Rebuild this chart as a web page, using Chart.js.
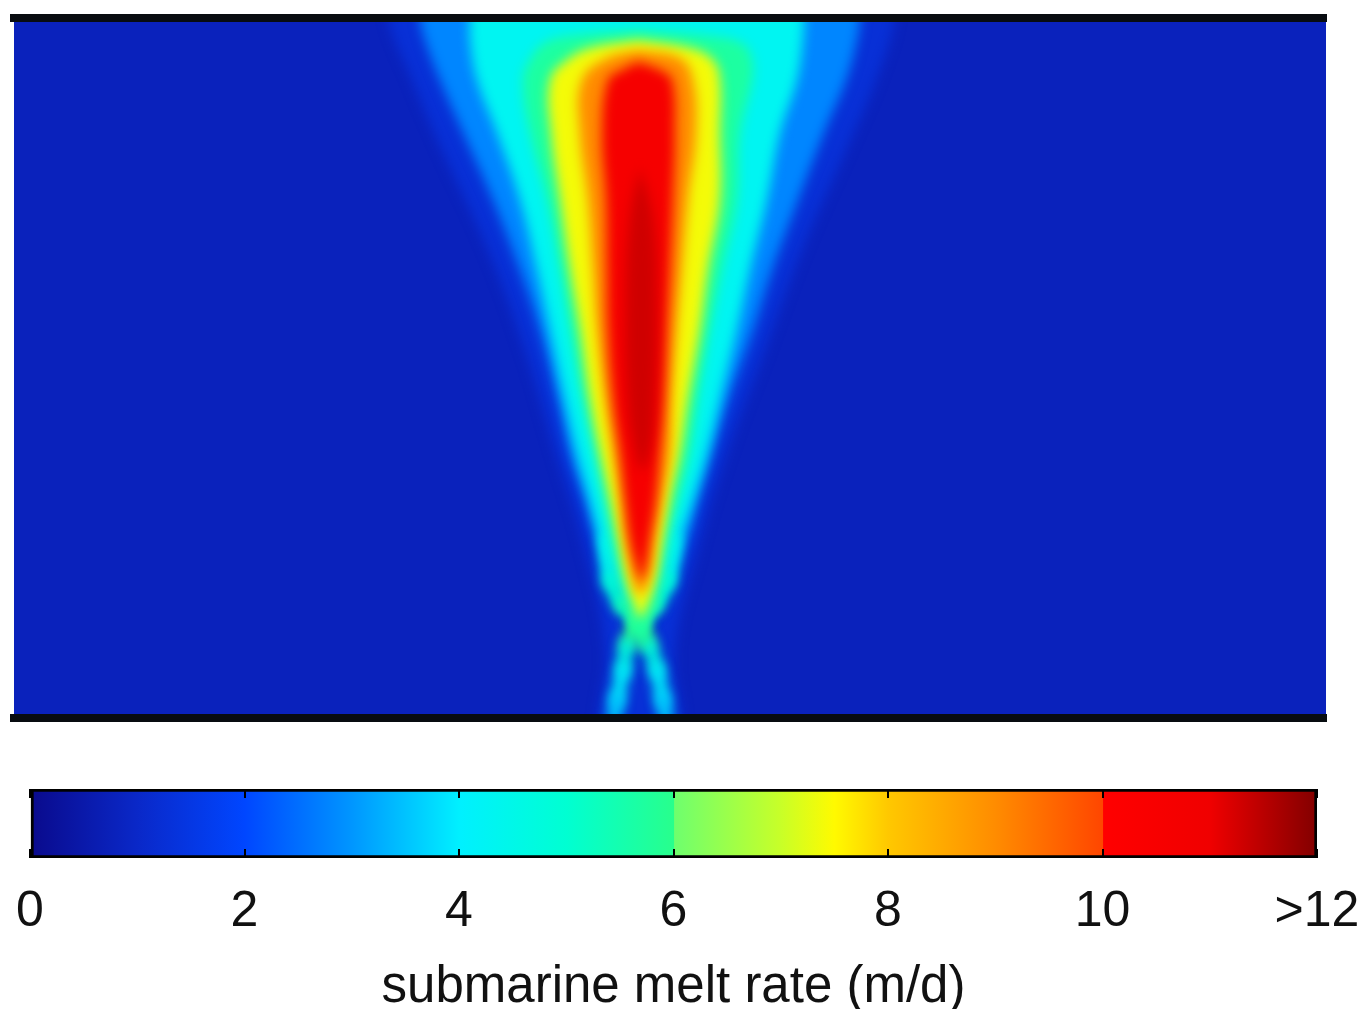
<!DOCTYPE html>
<html><head><meta charset="utf-8">
<script src="https://cdn.jsdelivr.net/npm/chart.js@4.4.1/dist/chart.umd.min.js"></script>
<style>
html,body{margin:0;padding:0;background:#fff;overflow:hidden;width:1369px;height:1009px}
#heat{position:absolute;left:0;top:0}
#bar{position:absolute;left:0;top:740px}
</style></head><body>
<canvas id="heat" width="1369" height="740"></canvas>
<canvas id="bar" width="1369" height="300"></canvas>
<script>
// ---------- data ----------
// along-front distance relative to plume centre, and depth below surface
const xRange = [-624, 688];
const depthRange = [0, 700];

// colour scale (melt rate, m/d)
const cmapStops  = [0, 1, 2, 3, 4, 5, 6, 6.01, 7, 7.5, 8, 9, 10, 10.01, 11, 12];
const cmapColors = ['#0a0a8c','#0a28c8','#0046ff','#0096ff','#00f0ff','#00ffd2','#28ff8c','#6eff6e',
                    '#c8ff28','#fffa00','#ffc800','#ff8c00','#ff4600','#ff0000','#f00000','#820000'];
const tickValues = [0, 2, 4, 6, 8, 10, 12];
const tickLabels = ['0', '2', '4', '6', '8', '10', '>12'];

// ambient melt rate
const backgroundRate = 0.8;

// contour outlines: [depth, left x, right x] for each melt-rate band
const hazeRate = 1.25;
const hazeRows = [[0,-250,257],[62,-226,238],[132,-196,208],[232,-150,164],[332,-113,127],[432,-83,90],[532,-53,60],[632,-33,37],[700,-40,44]];
const band2Rate = 2.8;
const band2Rows = [[0,-218,222],[22,-213,219],[62,-198,208],[112,-176,187],[182,-145,160],[252,-118,134],[312,-98,115],[382,-80,90],[435,-68,74],[482,-53,60],[522,-41,49],[562,-28,34],[592,-13,17],[607,2,2]];
const band4Rate = 4.3;
const band4Rows = [[0,-168,166],[22,-168,165],[62,-161,159],[115,-141,142],[182,-118,129],[252,-101,112],[312,-88,99],[382,-73,82],[435,-61,69],[482,-48,55],[522,-38,42],[562,-25,29],[592,-10,14],[604,2,2]];
const band6Rate = 5.7;
const band6Rows = [[12,0,0],[18,-70,72],[26,-95,105],[42,-108,114],[62,-115,114],[115,-108,102],[182,-91,99],[252,-78,84],[312,-68,72],[382,-55,60],[435,-43,52],[482,-33,40],[522,-25,29],[562,-16,22],[592,-8,14],[622,-2,8],[632,3,3]];
const band7Rate = 7.4;
const band7Rows = [[22,0,0],[30,-48,52],[42,-71,75],[62,-88,82],[115,-87,82],[182,-78,82],[252,-68,70],[312,-58,62],[382,-48,50],[435,-38,42],[482,-28,32],[522,-20,25],[562,-12,18],[587,-4,10],[600,2,2]];
const band9Rate = 9.0;
const band9Rows = [[32,0,0],[40,-31,42],[62,-56,55],[115,-58,58],[182,-50,50],[252,-45,44],[312,-41,39],[382,-33,34],[435,-25,32],[482,-18,24],[522,-13,17],[557,-6,12],[577,2,2]];
const band10Rate = 10.6;
const band10Rows = [[44,0,0],[52,-16,22],[62,-30,34],[115,-36,37],[182,-32,35],[252,-31,32],[312,-30,29],[382,-25,26],[435,-18,22],[482,-13,18],[522,-8,12],[547,-2,8],[562,3,3]];
const coreRate = 11.3;
const coreRows = [[150,2,2],[200,-8,15],[282,-12,19],[382,-10,17],[432,-3,12],[452,4,4]];

// crossing plume edges near the bed: [depth, x]
const edgeA = [[522,-32],[562,-28],[587,-16],[604,0],[627,11],[652,19],[682,25],[700,28]];
const edgeB = [[522,36],[562,30],[587,17],[604,0],[627,-11],[652,-15],[682,-21],[700,-24]];
const edgeRates = [4.5, 5, 5.5, 6, 4.7, 4.1, 3.6, 3.0];

// ---------- helpers ----------
function hexRgb(h){return [parseInt(h.substr(1,2),16),parseInt(h.substr(3,2),16),parseInt(h.substr(5,2),16)];}
function colormap(v){
  if (v <= cmapStops[0]) return cmapColors[0];
  for (let i = 1; i < cmapStops.length; i++) {
    if (v <= cmapStops[i]) {
      const t = (v - cmapStops[i-1]) / (cmapStops[i] - cmapStops[i-1]);
      const a = hexRgb(cmapColors[i-1]), b = hexRgb(cmapColors[i]);
      return 'rgb(' + a.map((c,k)=>Math.round(c + (b[k]-c)*t)).join(',') + ')';
    }
  }
  return cmapColors[cmapColors.length-1];
}
// closed outline: down the left edge, round the bottom, up the right edge
function outline(rows){
  const n = rows.length, P = (x,y)=>({x,y}), tip = r => r[1] === r[2];
  const pts = [];
  const top = rows[0], last = rows[n-1];
  if (tip(top)) pts.push(P(top[1], top[0])); else pts.push(P(top[1], top[0]-40));
  for (let i=0;i<n;i++) if(!tip(rows[i])) pts.push(P(rows[i][1], rows[i][0]));
  if (tip(last)) pts.push(P(last[1], last[0]));
  else { pts.push(P(last[1], last[0]+40)); pts.push(P(last[2], last[0]+40)); }
  for (let i=n-1;i>=0;i--) if(!tip(rows[i])) pts.push(P(rows[i][2], rows[i][0]));
  if (tip(top)) pts.push(P(top[2], top[0])); else pts.push(P(top[2], top[0]-40));
  return pts;
}
function bandSet(label, rows, rate){
  return {label, data: outline(rows), showLine:true, fill:'shape', tension:0.4,
          backgroundColor: colormap(rate), borderColor:'rgba(0,0,0,0)', borderWidth:0, pointRadius:0};
}
function edgeSet(label, pts){
  return {label, data: pts.map(p=>({x:p[1], y:p[0]})), showLine:true, fill:false, tension:0.3,
          borderWidth:14, borderCapStyle:'round', pointRadius:0, borderColor: colormap(edgeRates[0]),
          segment:{borderColor: c => colormap(edgeRates[c.p0DataIndex])}};
}

const FONT = "'Liberation Sans', Arial, sans-serif";

// ---------- heat map ----------
const bgRect = [{x:xRange[0]-60,y:depthRange[0]-60},{x:xRange[0]-60,y:depthRange[1]+60},
                {x:xRange[1]+60,y:depthRange[1]+60},{x:xRange[1]+60,y:depthRange[0]-60}];
const sets = [
  {label:'ambient', data:bgRect, showLine:true, fill:'shape', tension:0, backgroundColor:colormap(backgroundRate),
   borderColor:'rgba(0,0,0,0)', borderWidth:0, pointRadius:0},
  bandSet('haze', hazeRows, hazeRate),
  bandSet('2', band2Rows, band2Rate),
  bandSet('4', band4Rows, band4Rate),
  edgeSet('edgeA', edgeA),
  edgeSet('edgeB', edgeB),
  bandSet('6', band6Rows, band6Rate),
  bandSet('7', band7Rows, band7Rate),
  bandSet('9', band9Rows, band9Rate),
  bandSet('10', band10Rows, band10Rate),
  bandSet('core', coreRows, coreRate)
];
sets.forEach((d,i)=>{ d.order = sets.length - i; });

const soften = {
  id:'soften',
  beforeDatasetsDraw(chart){ chart.ctx.save(); chart.ctx.filter = 'blur(6px)'; },
  afterDatasetsDraw(chart){ chart.ctx.restore(); }
};

const frameAxis = (pos) => ({type:'linear', axis:'x', position:pos, min:xRange[0], max:xRange[1],
  ticks:{display:false}, grid:{display:false, drawTicks:false},
  border:{display:true, color:'#080c10', width:8, z:1}});

new Chart(document.getElementById('heat'), {
  type:'scatter',
  data:{datasets:sets},
  options:{
    responsive:false, animation:false, events:[],
    layout:{padding:{left:14, right:43, top:18, bottom:22}},
    plugins:{legend:{display:false}, tooltip:{enabled:false}},
    scales:{
      x: frameAxis('bottom'),
      xTop: frameAxis('top'),
      y:{type:'linear', reverse:true, min:depthRange[0], max:depthRange[1], display:false}
    }
  },
  plugins:[soften]
});

// ---------- colour bar ----------
new Chart(document.getElementById('bar'), {
  type:'bar',
  data:{labels:['melt'], datasets:[{
    data:[[tickValues[0], tickValues[tickValues.length-1]]],
    backgroundColor:(c)=>{
      const ch = c.chart; const sx = ch.scales.x;
      if (!ch.chartArea || !sx) return cmapColors[0];
      const x0 = sx.getPixelForValue(cmapStops[0]), x1 = sx.getPixelForValue(cmapStops[cmapStops.length-1]);
      const g = ch.ctx.createLinearGradient(x0,0,x1,0);
      cmapStops.forEach((s,i)=>g.addColorStop((s-cmapStops[0])/(cmapStops[cmapStops.length-1]-cmapStops[0]), cmapColors[i]));
      return g;
    },
    borderColor:'#000', borderWidth:3, borderSkipped:false, barPercentage:1, categoryPercentage:1
  }]},
  options:{
    indexAxis:'y', responsive:false, animation:false, events:[],
    layout:{padding:{left:30, right:52, top:49, bottom:21}},
    plugins:{legend:{display:false}, tooltip:{enabled:false}},
    scales:{
      x:{type:'linear', position:'bottom', min:0, max:12,
        afterBuildTicks:(s)=>{ s.ticks = tickValues.map(v=>({value:v})); },
        afterFit:(s)=>{ s.height = 161; s.paddingLeft = 0; s.paddingRight = 0; },
        ticks:{callback:(v)=>tickLabels[tickValues.indexOf(v)], font:{family:FONT, size:50}, color:'#111',
               padding:24, maxRotation:0, autoSkip:false},
        grid:{display:true, drawOnChartArea:true, drawTicks:false, color:'#000', lineWidth:2, z:1},
        border:{display:false, dash:[9,51]},
        title:{display:true, text:'submarine melt rate (m/d)', font:{family:FONT, size:51}, color:'#111',
               padding:{top:22, bottom:0}}
      },
      y:{display:false}
    }
  }
});
</script></body></html>
